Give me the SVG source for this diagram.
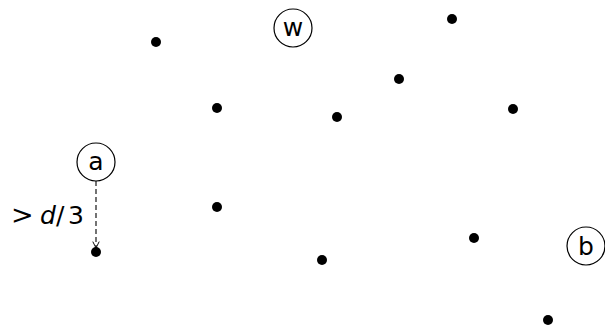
<svg xmlns="http://www.w3.org/2000/svg" width="605" height="328" viewBox="0 0 605 328">
<style>
.dot{fill:#000}
.node circle{fill:#fff;stroke:#000;stroke-width:1.2}
.node text{font-family:"DejaVu Sans",sans-serif;font-size:25px;text-anchor:middle;fill:#000}
.lbl{font-family:"DejaVu Sans",sans-serif;font-size:25px;fill:#000}
</style>
<defs>
<marker id="ah" viewBox="0 0 10 10" refX="9" refY="5" markerWidth="8" markerHeight="8" orient="auto" markerUnits="userSpaceOnUse">
<path d="M1,1 L9,5 L1,9" fill="none" stroke="#000" stroke-width="1.2"/>
</marker>
</defs>
<g id="dots">
<circle class="dot" cx="156" cy="42" r="5"/>
<circle class="dot" cx="452" cy="19" r="5"/>
<circle class="dot" cx="399" cy="79" r="5"/>
<circle class="dot" cx="217" cy="108" r="5"/>
<circle class="dot" cx="337" cy="117" r="5"/>
<circle class="dot" cx="513" cy="109" r="5"/>
<circle class="dot" cx="217" cy="207" r="5"/>
<circle class="dot" cx="474" cy="238" r="5"/>
<circle class="dot" cx="96" cy="252" r="5"/>
<circle class="dot" cx="322" cy="260" r="5"/>
<circle class="dot" cx="548" cy="320" r="5"/>
</g>
<g id="node-w" class="node"><circle cx="293" cy="28" r="19"/><text x="293" y="36">w</text></g>
<g id="node-a" class="node"><circle cx="96" cy="162" r="19"/><text x="96" y="170">a</text></g>
<g id="node-b" class="node"><circle cx="586" cy="246" r="19"/><text x="586" y="255">b</text></g>
<g id="connectors">
<line x1="96" y1="181" x2="96" y2="248" stroke="#000" stroke-width="1.1" stroke-dasharray="5,3" marker-end="url(#ah)"/>
<text class="lbl" y="224"><tspan x="11" font-size="27px">&gt;</tspan><tspan x="40" font-style="italic">d</tspan><tspan x="56">/</tspan><tspan x="68">3</tspan></text>
</g>
</svg>
